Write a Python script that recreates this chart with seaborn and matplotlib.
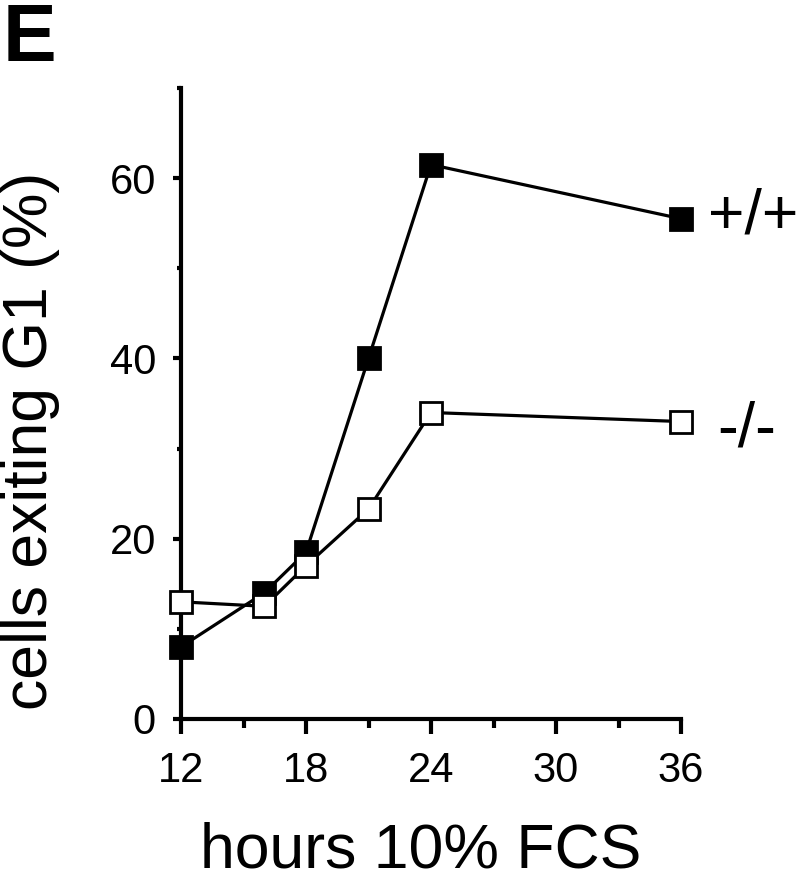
import matplotlib
matplotlib.use("Agg")
import matplotlib.pyplot as plt
import seaborn as sns
import pandas as pd
from matplotlib.ticker import FixedLocator

# ---- data ----
hours = [12, 16, 18, 21, 24, 36]
wild_type = [8, 14, 18.5, 40, 61.5, 55.5]     # +/+ (filled squares)
knockout = [13, 12.5, 17, 23.3, 34, 33]        # -/- (open squares)
x_ticks = [12, 18, 24, 30, 36]
y_ticks = [0, 20, 40, 60]
series_labels = ["+/+", "-/-"]
panel_label = "E"
x_label = "hours 10% FCS"
y_label = "cells exiting G1 (%)"

sns.set_style("ticks")
plt.rcParams["font.family"] = ["Liberation Sans", "DejaVu Sans"]
plt.rcParams["text.color"] = "black"
plt.rcParams["axes.labelcolor"] = "black"
plt.rcParams["xtick.color"] = "black"
plt.rcParams["ytick.color"] = "black"

fig = plt.figure(figsize=(8, 8.8), dpi=100)
ax = fig.add_axes([181/800, 1-719/880, 500/800, 631/880])

df_wt = pd.DataFrame({"hours": hours, "value": wild_type})
df_ko = pd.DataFrame({"hours": hours, "value": knockout})

sns.lineplot(data=df_wt, x="hours", y="value", ax=ax, color="black",
             linewidth=2.3, marker="s", markersize=16.5, markerfacecolor="black",
             markeredgecolor="black", markeredgewidth=2.0, clip_on=False, zorder=3)
sns.lineplot(data=df_ko, x="hours", y="value", ax=ax, color="black",
             linewidth=2.3, marker="s", markersize=16.5, markerfacecolor="white",
             markeredgecolor="black", markeredgewidth=2.0, clip_on=False, zorder=4)

ax.set_xlim(12, 36)
ax.set_ylim(0, 70)
ax.xaxis.set_major_locator(FixedLocator(x_ticks))
ax.yaxis.set_major_locator(FixedLocator(y_ticks))
ax.xaxis.set_minor_locator(FixedLocator([15, 21, 27, 33]))
ax.yaxis.set_minor_locator(FixedLocator([10, 30, 50, 70]))
ax.set_xticklabels([str(t) for t in x_ticks])
ax.set_yticklabels([str(t) for t in y_ticks])

for s in ["top", "right"]:
    ax.spines[s].set_visible(False)
for s in ["left", "bottom"]:
    ax.spines[s].set_linewidth(3)
    ax.spines[s].set_color("black")

ax.tick_params(axis="x", which="major", length=11, width=3, pad=12, labelsize=30, colors="black")
ax.tick_params(axis="x", which="minor", length=6.5, width=3, colors="black")
ax.tick_params(axis="y", which="major", length=6, width=3, pad=12, labelsize=30, colors="black")
ax.tick_params(axis="y", which="minor", length=3, width=3, colors="black")

ax.set_xlabel(x_label, fontsize=45, color="black")
ax.set_ylabel(y_label, fontsize=45, color="black")
ax.xaxis.set_label_coords(0.48, -161/631)
ax.xaxis.label.set_va("bottom")
ax.yaxis.set_label_coords(-0.242, 0.44)

fig.text(0.003, 1-61/880, panel_label, fontsize=58, fontweight="bold", va="baseline", ha="left")
fig.text(753/800, 1-234/880, series_labels[0], fontsize=45, ha="center", va="baseline")
fig.text(747/800, 1-446/880, series_labels[1], fontsize=45, ha="center", va="baseline")

ax.grid(False)
fig.savefig("out.png", dpi=100, facecolor="white")
